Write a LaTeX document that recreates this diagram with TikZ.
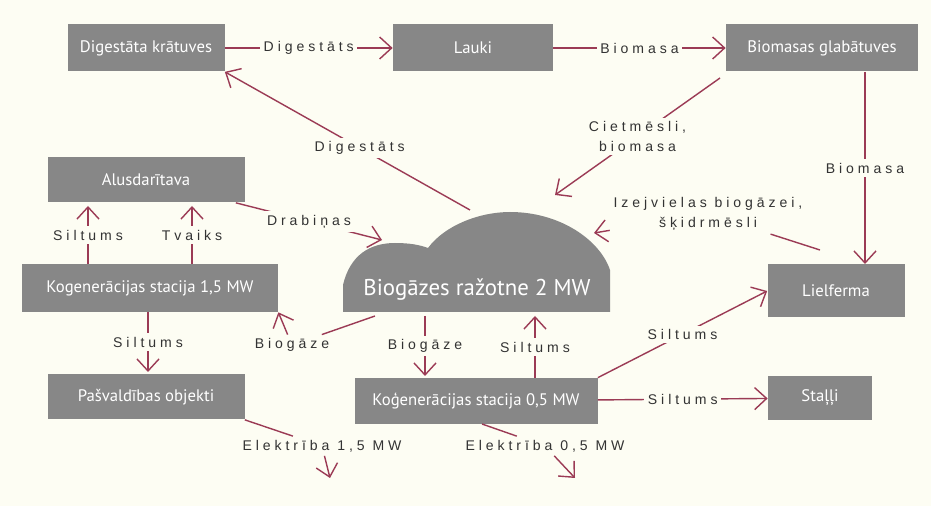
\documentclass[tikz,border=0pt]{standalone}
\usepackage{fontspec}
\setmainfont{Liberation Sans}
\newfontfamily\boxfont{PT Sans}
\usetikzlibrary{arrows.meta}
\definecolor{bg}{HTML}{FDFDF3}
\definecolor{boxgray}{HTML}{878787}
\definecolor{flow}{HTML}{9B3B55}
\tikzset{>={Straight Barb[length=2.4mm,width=4.4mm]},
    flow/.style={draw=flow,thick},
    unit/.style={rectangle,fill=boxgray,text=white,font=\boxfont\fontsize{9.5}{11}\selectfont,inner sep=0pt},
    lbl/.style={fill=bg,text=black!80,inner sep=2pt,align=center,
        font=\addfontfeatures{LetterSpace=28}\fontsize{8}{11}\selectfont}}
\begin{document}
\begin{tikzpicture}[x=0.02cm,y=-0.02cm]
\fill[bg] (0,0) rectangle (931,506);
% units
\node[unit,minimum width=157*0.02cm,minimum height=47*0.02cm] (dk) at (146,48)  {Digestāta krātuves};
\node[unit,minimum width=160*0.02cm,minimum height=47*0.02cm] (la) at (473,48)  {Lauki};
\node[unit,minimum width=192*0.02cm,minimum height=47*0.02cm] (bg) at (822,48)  {Biomasas glabātuves};
\node[unit,minimum width=197*0.02cm,minimum height=45*0.02cm] (al) at (146,180) {Alusdarītava};
\node[unit,minimum width=256*0.02cm,minimum height=48*0.02cm] (k1) at (150,288) {Kogenerācijas stacija 1,5 MW};
\node[unit,minimum width=197*0.02cm,minimum height=45*0.02cm] (pa) at (146,397) {Pašvaldības objekti};
\node[unit,minimum width=243*0.02cm,minimum height=46*0.02cm] (k2) at (476,401) {Koģenerācijas stacija 0,5 MW};
\node[unit,minimum width=137*0.02cm,minimum height=53*0.02cm] (lf) at (836,291) {Lielferma};
\node[unit,minimum width=104*0.02cm,minimum height=44*0.02cm] (st) at (820,398) {Staļļi};
% cloud
\fill[boxgray] (343,312) -- (343,285) .. controls (350,255) and (370,243) .. (395,243)
    .. controls (410,243) and (420,245) .. (428,248)
    .. controls (445,225) and (480,212) .. (510,212)
    .. controls (560,212) and (600,240) .. (610,270) -- (610,312) -- cycle;
\node[text=white,font=\boxfont\fontsize{13}{15}\selectfont] (bi) at (477,290) {Biogāzes ražotne 2 MW};
\coordinate (bil) at (375,316);
\coordinate (bim) at (425,316);
\coordinate (bir) at (535,316);
\coordinate (bit) at (470,210);
\coordinate (bin) at (555,195);
\coordinate (bie) at (594,233);
\coordinate (biw) at (382,240);
\coordinate (e1) at (330,478);
\coordinate (e2) at (575,478);
% flows
\draw[flow,->] (dk) -- node[lbl] {Digestāts} (la);
\draw[flow,->] (la) -- node[lbl] {Biomasa} (bg);
\draw[flow,->] (bit) -- node[lbl,pos=0.45] {Digestāts} (dk.south east);
\draw[flow,->] (720,78) -- node[lbl,pos=0.5] {Cietmēsli,\\biomasa} (bin);
\draw[flow,->] (865,72) -- node[lbl] {Biomasa} (865,264);
\node[lbl] (izl) at (708,214) {Izejvielas biogāzei,\\šķidrmēsli};
\draw[flow] (820,250) -- (izl);
\draw[flow,->] (izl) -- (bie);
\draw[flow,->] (al) -- node[lbl] {Drabiņas} (biw);
\draw[flow,->] (88,264) -- node[lbl] {Siltums} (88,206);
\draw[flow,->] (192,264) -- node[lbl] {Tvaiks} (192,206);
\draw[flow,->] (148,312) -- node[lbl] {Siltums} (148,372);
\node[lbl] (bgz) at (292,345) {Biogāze};
\draw[flow] (bil) -- (bgz);
\draw[flow,->] (bgz) -- (k1.south east);
\draw[flow,->] (bim) -- node[lbl] {Biogāze} (425,376);
\draw[flow,->] (535,378) -- node[lbl] {Siltums} (bir);
\draw[flow,->] (k2.north east) -- node[lbl] {Siltums} (lf.west);
\draw[flow,->] (k2) -- node[lbl] {Siltums} (st);
\node[lbl] (el1) at (322,446) {Elektrība 1,5 MW};
\draw[flow] (pa.south east) -- (el1);
\draw[flow,->] (el1) -- (e1);
\node[lbl] (el2) at (545,446) {Elektrība 0,5 MW};
\draw[flow] (482,424) -- (el2);
\draw[flow,->] (el2) -- (e2);
\end{tikzpicture}
\end{document}
